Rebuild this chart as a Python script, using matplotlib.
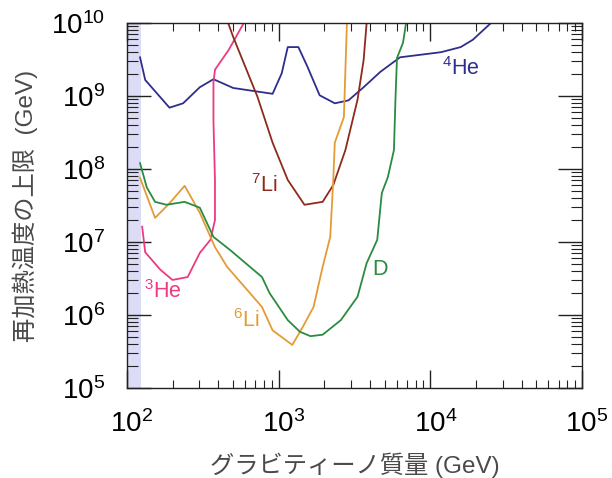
import matplotlib
matplotlib.use("Agg")
import matplotlib.pyplot as plt
from matplotlib.transforms import ScaledTranslation
import numpy as np

plt.rcParams['font.family'] = ['Liberation Sans', 'Noto Sans CJK JP', 'DejaVu Sans']
plt.rcParams['mathtext.fontset'] = 'custom'
plt.rcParams['mathtext.rm'] = 'Liberation Sans'
plt.rcParams['mathtext.it'] = 'Liberation Sans:italic'
plt.rcParams['mathtext.bf'] = 'Liberation Sans:bold'

# log10 values
he4_x = [2.086, 2.12, 2.28, 2.37, 2.48, 2.57, 2.70, 2.83, 2.96, 3.02, 3.06, 3.13, 3.19, 3.27, 3.37, 3.46, 3.56, 3.67, 3.80, 4.07, 4.20, 4.28, 4.40]
he4_y = [9.53, 9.22, 8.84, 8.90, 9.12, 9.23, 9.11, 9.07, 9.03, 9.31, 9.67, 9.67, 9.40, 9.01, 8.90, 8.94, 9.12, 9.33, 9.53, 9.60, 9.67, 9.77, 10.0]

he3_x = [2.10, 2.12, 2.22, 2.30, 2.40, 2.48, 2.55, 2.58, 2.58, 2.57, 2.57, 2.58, 2.67, 2.77]
he3_y = [7.21, 6.86, 6.62, 6.48, 6.52, 6.85, 7.03, 7.30, 7.85, 8.67, 9.18, 9.36, 9.63, 10.0]

li7_x = [2.667, 2.70, 2.86, 2.96, 3.06, 3.17, 3.29, 3.36, 3.44, 3.52, 3.56, 3.58]
li7_y = [10.0, 9.81, 8.99, 8.36, 7.85, 7.51, 7.55, 7.78, 8.26, 8.95, 9.49, 10.0]

li6_x = [2.086, 2.185, 2.28, 2.38, 2.48, 2.58, 2.66, 2.89, 2.96, 3.09, 3.16, 3.23, 3.29, 3.34, 3.36, 3.37, 3.43, 3.45]
li6_y = [7.88, 7.33, 7.53, 7.77, 7.40, 6.93, 6.66, 6.11, 5.79, 5.59, 5.84, 6.11, 6.66, 7.07, 7.85, 8.36, 8.71, 10.0]

d_x = [2.086, 2.13, 2.185, 2.26, 2.38, 2.48, 2.57, 2.68, 2.89, 2.94, 3.06, 3.14, 3.21, 3.29, 3.41, 3.52, 3.58, 3.65, 3.68, 3.72, 3.76, 3.77, 3.78, 3.82, 3.84]
d_y = [8.08, 7.75, 7.55, 7.51, 7.55, 7.47, 7.07, 6.89, 6.52, 6.30, 5.93, 5.77, 5.71, 5.73, 5.93, 6.25, 6.71, 7.03, 7.67, 7.89, 8.26, 8.95, 9.52, 9.73, 10.0]

xtick_vals = [1e2, 1e3, 1e4, 1e5]
xtick_labels = [r'$10^{2}$', r'$10^{3}$', r'$10^{4}$', r'$10^{5}$']
ytick_vals = [1e5, 1e6, 1e7, 1e8, 1e9, 1e10]
ytick_labels = [r'$10^{5}$', r'$10^{6}$', r'$10^{7}$', r'$10^{8}$', r'$10^{9}$', r'$10^{10}$']

c_blue = '#2e2e8c'
c_pink = '#ec3b80'
c_brown = '#8e2a1c'
c_orange = '#e59b35'
c_green = '#2a8c40'

fig = plt.figure(figsize=(6.12, 4.78), dpi=100)
ax = fig.add_axes([127/612, 1-388/478, (582-127)/612, (388-23)/478])

ax.set_xscale('log')
ax.set_yscale('log')
ax.set_xlim(1e2, 1e5)
ax.set_ylim(1e5, 1e10)

ax.axvspan(1e2, 10**2.09, color='#dcdcf6', lw=0, zorder=0)

def p(x, y, c):
    ax.plot(10**np.array(x), 10**np.array(y), color=c, lw=1.3, clip_on=True)

p(he4_x, he4_y, c_blue)
p(he3_x, he3_y, c_pink)
p(li7_x, li7_y, c_brown)
p(li6_x, li6_y, c_orange)
p(d_x, d_y, c_green)

fs = 15.5
lf = 'Liberation Sans'
ax.text(10**4.08, 10**9.38, r'$^{4}$He', color=c_blue, fontsize=fs, family=lf, ha='left', va='center')
ax.text(10**2.82, 10**7.78, r'$^{7}$Li', color=c_brown, fontsize=fs, family=lf, ha='left', va='center')
ax.text(10**2.11, 10**6.32, r'$^{3}$He', color=c_pink, fontsize=fs, family=lf, ha='left', va='center')
ax.text(10**2.70, 10**5.92, r'$^{6}$Li', color=c_orange, fontsize=fs, family=lf, ha='left', va='center')
ax.text(10**3.62, 10**6.62, 'D', color=c_green, fontsize=fs, family=lf, ha='left', va='center')

ax.tick_params(which='both', direction='in', top=True, right=True, color='#222222')
ax.tick_params(axis='x', which='major', length=13, width=1.0, labelsize=20, pad=16)
ax.tick_params(axis='x', which='minor', length=6, width=0.8)
ax.tick_params(axis='y', which='major', length=17, width=1.0, labelsize=20, pad=16)
ax.tick_params(axis='y', which='minor', length=8, width=0.8)
for s in ax.spines.values():
    s.set_color('#222222')
    s.set_linewidth(1.0)

ax.set_xticks(xtick_vals)
ax.set_xticklabels(xtick_labels)
ax.set_yticks(ytick_vals)
ax.set_yticklabels(ytick_labels)
shift = ScaledTranslation(5/100, 0, fig.dpi_scale_trans)
for lab in ax.get_xticklabels():
    lab.set_transform(lab.get_transform() + shift)

ax.set_xlabel('グラビティーノ質量 (GeV)', fontsize=17.5, color='#4a4a4a')
ax.set_ylabel('再加熱温度の上限  (GeV)', fontsize=17.5, color='#4a4a4a')
ax.xaxis.set_label_coords(0.5, -(465-388)/365, transform=ax.transAxes)
ax.yaxis.set_label_coords(-(127-25)/455, 0.5, transform=ax.transAxes)
ax.xaxis.label.set_va('center')
ax.yaxis.label.set_va('center')

fig.savefig('out.png', dpi=100)
